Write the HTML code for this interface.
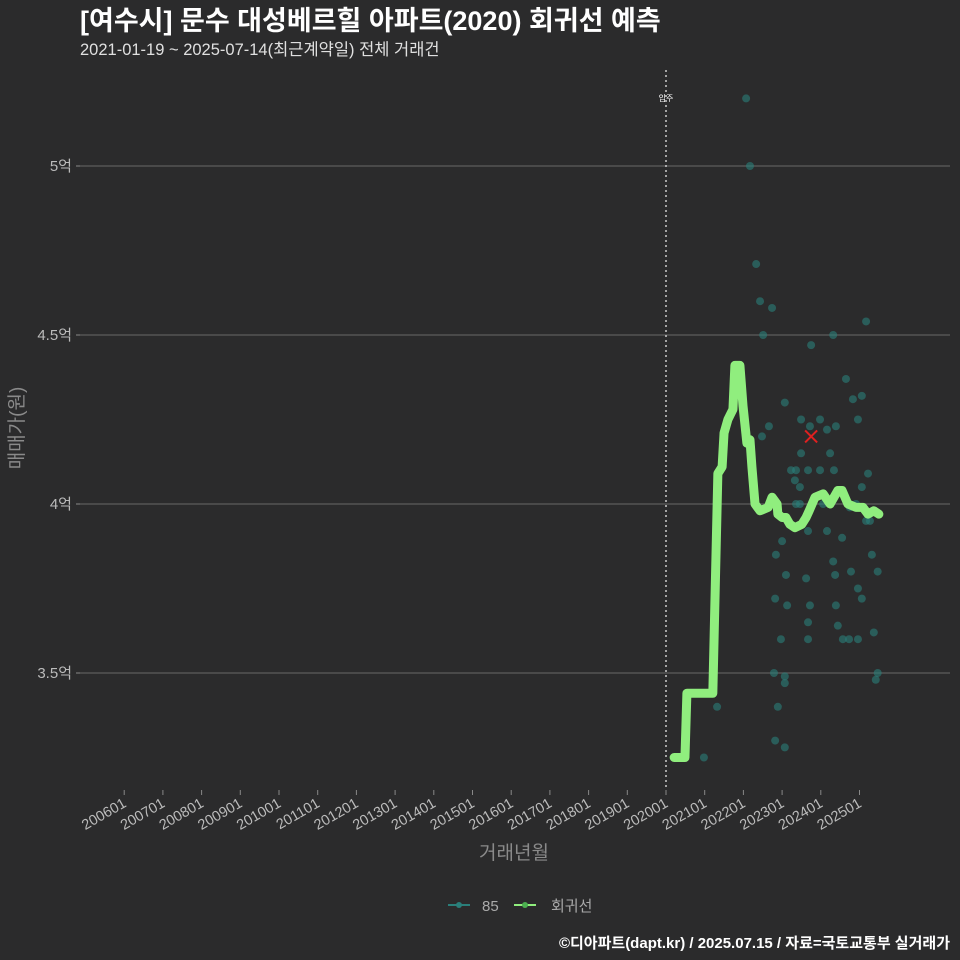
<!DOCTYPE html>
<html><head><meta charset="utf-8"><style>
html,body{margin:0;width:960px;height:960px;overflow:hidden;background:#2b2b2c;font-family:"Liberation Sans","Noto Sans CJK KR",sans-serif;}
svg{display:block;}
svg text{font-family:"Liberation Sans","Noto Sans CJK KR",sans-serif;}
</style></head><body>
<svg id="c" width="960" height="960" xmlns="http://www.w3.org/2000/svg">
<rect width="960" height="960" fill="#2b2b2c"/>
<text x="80" y="30" fill="#ffffff" font-size="27" font-weight="bold">[여수시] 문수 대성베르힐 아파트(2020) 회귀선 예측</text>
<text x="80" y="55" fill="#e0e0e0" font-size="16.5">2021-01-19 ~ 2025-07-14(최근계약일) 전체 거래건</text>
<g id="grid"></g><g id="yt"></g><g id="xt"></g><g id="pts"></g><g id="ln"></g>
<text transform="translate(23,428) rotate(-90)" text-anchor="middle" fill="#8a8a8a" font-size="19">매매가(원)</text>
<text x="514" y="859" text-anchor="middle" fill="#8a8a8a" font-size="19">거래년월</text>
<g>
<g><line x1="448" y1="905" x2="470" y2="905" stroke="#2a7f7a" stroke-width="2"/><circle cx="459" cy="905" r="3" fill="#2a7f7a"/><text x="482" y="911" fill="#aaaaaa" font-size="15">85</text></g>
<g><line x1="514" y1="905" x2="536" y2="905" stroke="#90ee7e" stroke-width="2"/><circle cx="525" cy="905" r="3" fill="#4caf50"/><text x="551" y="911" fill="#aaaaaa" font-size="15">회귀선</text></g>
</g>
<text x="950" y="948" text-anchor="end" fill="#ffffff" font-size="15" font-weight="bold">©디아파트(dapt.kr) / 2025.07.15 / 자료=국토교통부 실거래가</text>
</svg>
<script>
const yTicks=[3.5,4,4.5,5];
const yLabels=["3.5억","4억","4.5억","5억"];
const xTickYears=[2006,2007,2008,2009,2010,2011,2012,2013,2014,2015,2016,2017,2018,2019,2020,2021,2022,2023,2024,2025];
const xLabels=["200601","200701","200801","200901","201001","201101","201201","201301","201401","201501","201601","201701","201801","201901","202001","202101","202201","202301","202401","202501"];
const ptYears=[2020.98,2021.32,2022.07,2022.17,2022.33,2022.43,2022.51,2022.74,2022.66,2022.48,2023.07,2023.23,2023.36,2023.49,2023.49,2023.67,2023.75,2023.98,2023.98,2024.16,2024.24,2024.32,2024.34,2024.39,2024.65,2024.83,2025.06,2025.17,2024.96,2022.84,2023.00,2023.10,2022.82,2023.13,2023.33,2023.46,2023.67,2023.62,2023.72,2023.67,2023.67,2024.16,2024.32,2024.37,2024.39,2024.44,2024.55,2024.78,2024.57,2024.73,2024.96,2024.96,2025.06,2025.32,2025.47,2025.37,2025.47,2025.42,2022.79,2023.07,2023.07,2022.89,2022.82,2023.07,2022.97,2025.17,2025.27,2025.22,2025.06,2024.91,2024.75,2024.06,2023.46,2023.36,2023.72];
const ptValues=[3.25,3.40,5.20,5.00,4.71,4.60,4.50,4.58,4.23,4.20,4.30,4.10,4.10,4.25,4.15,4.10,4.47,4.25,4.10,4.22,4.15,4.50,4.10,4.23,4.37,4.31,4.32,4.54,4.25,3.85,3.89,3.79,3.72,3.70,4.07,4.05,3.92,3.78,3.70,3.65,3.60,3.92,3.83,3.79,3.70,3.64,3.90,3.80,3.60,3.60,3.60,3.75,3.72,3.85,3.80,3.62,3.50,3.48,3.50,3.49,3.47,3.40,3.30,3.28,3.60,3.95,3.95,4.09,4.05,4.00,3.99,4.00,4.00,4.00,4.23];
const lnYears=[2020.21,2020.49,2020.54,2021.21,2021.34,2021.45,2021.50,2021.60,2021.73,2021.78,2021.91,2021.99,2022.09,2022.17,2022.22,2022.30,2022.43,2022.64,2022.74,2022.87,2022.89,2023.00,2023.10,2023.20,2023.33,2023.51,2023.62,2023.70,2023.85,2024.06,2024.24,2024.44,2024.55,2024.70,2024.91,2025.09,2025.22,2025.37,2025.50];
const lnValues=[3.25,3.25,3.44,3.44,4.09,4.11,4.21,4.25,4.28,4.41,4.41,4.29,4.18,4.19,4.11,4.00,3.98,3.99,4.02,4.00,3.97,3.96,3.96,3.94,3.93,3.94,3.96,3.98,4.02,4.03,4.00,4.04,4.04,4.00,3.99,3.99,3.97,3.98,3.97];
const moveIn=2020;
const latest=[2023.75,4.20];
const NS="http://www.w3.org/2000/svg";
const X=y=>666+(y-2020)*38.7;
const Y=v=>166+(5-v)*338;
function mk(t,a,p){const e=document.createElementNS(NS,t);for(const k in a)e.setAttribute(k,a[k]);p.appendChild(e);return e;}
const grid=document.getElementById('grid'),yt=document.getElementById('yt'),xt=document.getElementById('xt'),pts=document.getElementById('pts'),ln=document.getElementById('ln');
yTicks.forEach((v,i)=>{
 const g=mk('line',{x1:80,x2:950,y1:Y(v),y2:Y(v),stroke:'#555555','stroke-width':1.5},grid);
 
 
 mk('line',{x1:76,x2:80,y1:Y(v),y2:Y(v),stroke:'#888'},yt);
 const t=mk('text',{x:72,y:Y(v)+5,'text-anchor':'end',fill:'#bbbbbb','font-size':15},yt);t.textContent=yLabels[i];
 
 
});
xTickYears.forEach((y,i)=>{
 mk('line',{x1:X(y),x2:X(y),y1:790,y2:795,stroke:'#888'},xt);
 const t=mk('text',{transform:`translate(${X(y)+3},${806}) rotate(-30)`,'text-anchor':'end',fill:'#bbbbbb','font-size':14.5},xt);t.textContent=xLabels[i];
 
 
});
const vl=mk('line',{x1:X(moveIn),x2:X(moveIn),y1:70,y2:790,stroke:'#cccccc','stroke-width':1.5,'stroke-dasharray':'2,3'},grid);


const vt=mk('text',{x:X(moveIn),y:101,'text-anchor':'middle',fill:'#ffffff','font-size':8},grid);vt.textContent='입주';


ptYears.forEach((y,i)=>{
 const c=mk('circle',{cx:X(y),cy:Y(ptValues[i]),r:4,fill:'#2a7f7a','fill-opacity':0.6},pts);
 
 
});
const p=mk('polyline',{points:lnYears.map((y,i)=>X(y)+','+Y(lnValues[i])).join(' '),fill:'none',stroke:'#90ee7e','stroke-width':9,'stroke-linejoin':'round','stroke-linecap':'round'},ln);


const cx=X(latest[0]),cy=Y(latest[1]);
const cr=mk('path',{d:`M${cx-6},${cy-6}L${cx+6},${cy+6}M${cx-6},${cy+6}L${cx+6},${cy-6}`,stroke:'#e02020','stroke-width':2},ln);


</script>
</body></html>
